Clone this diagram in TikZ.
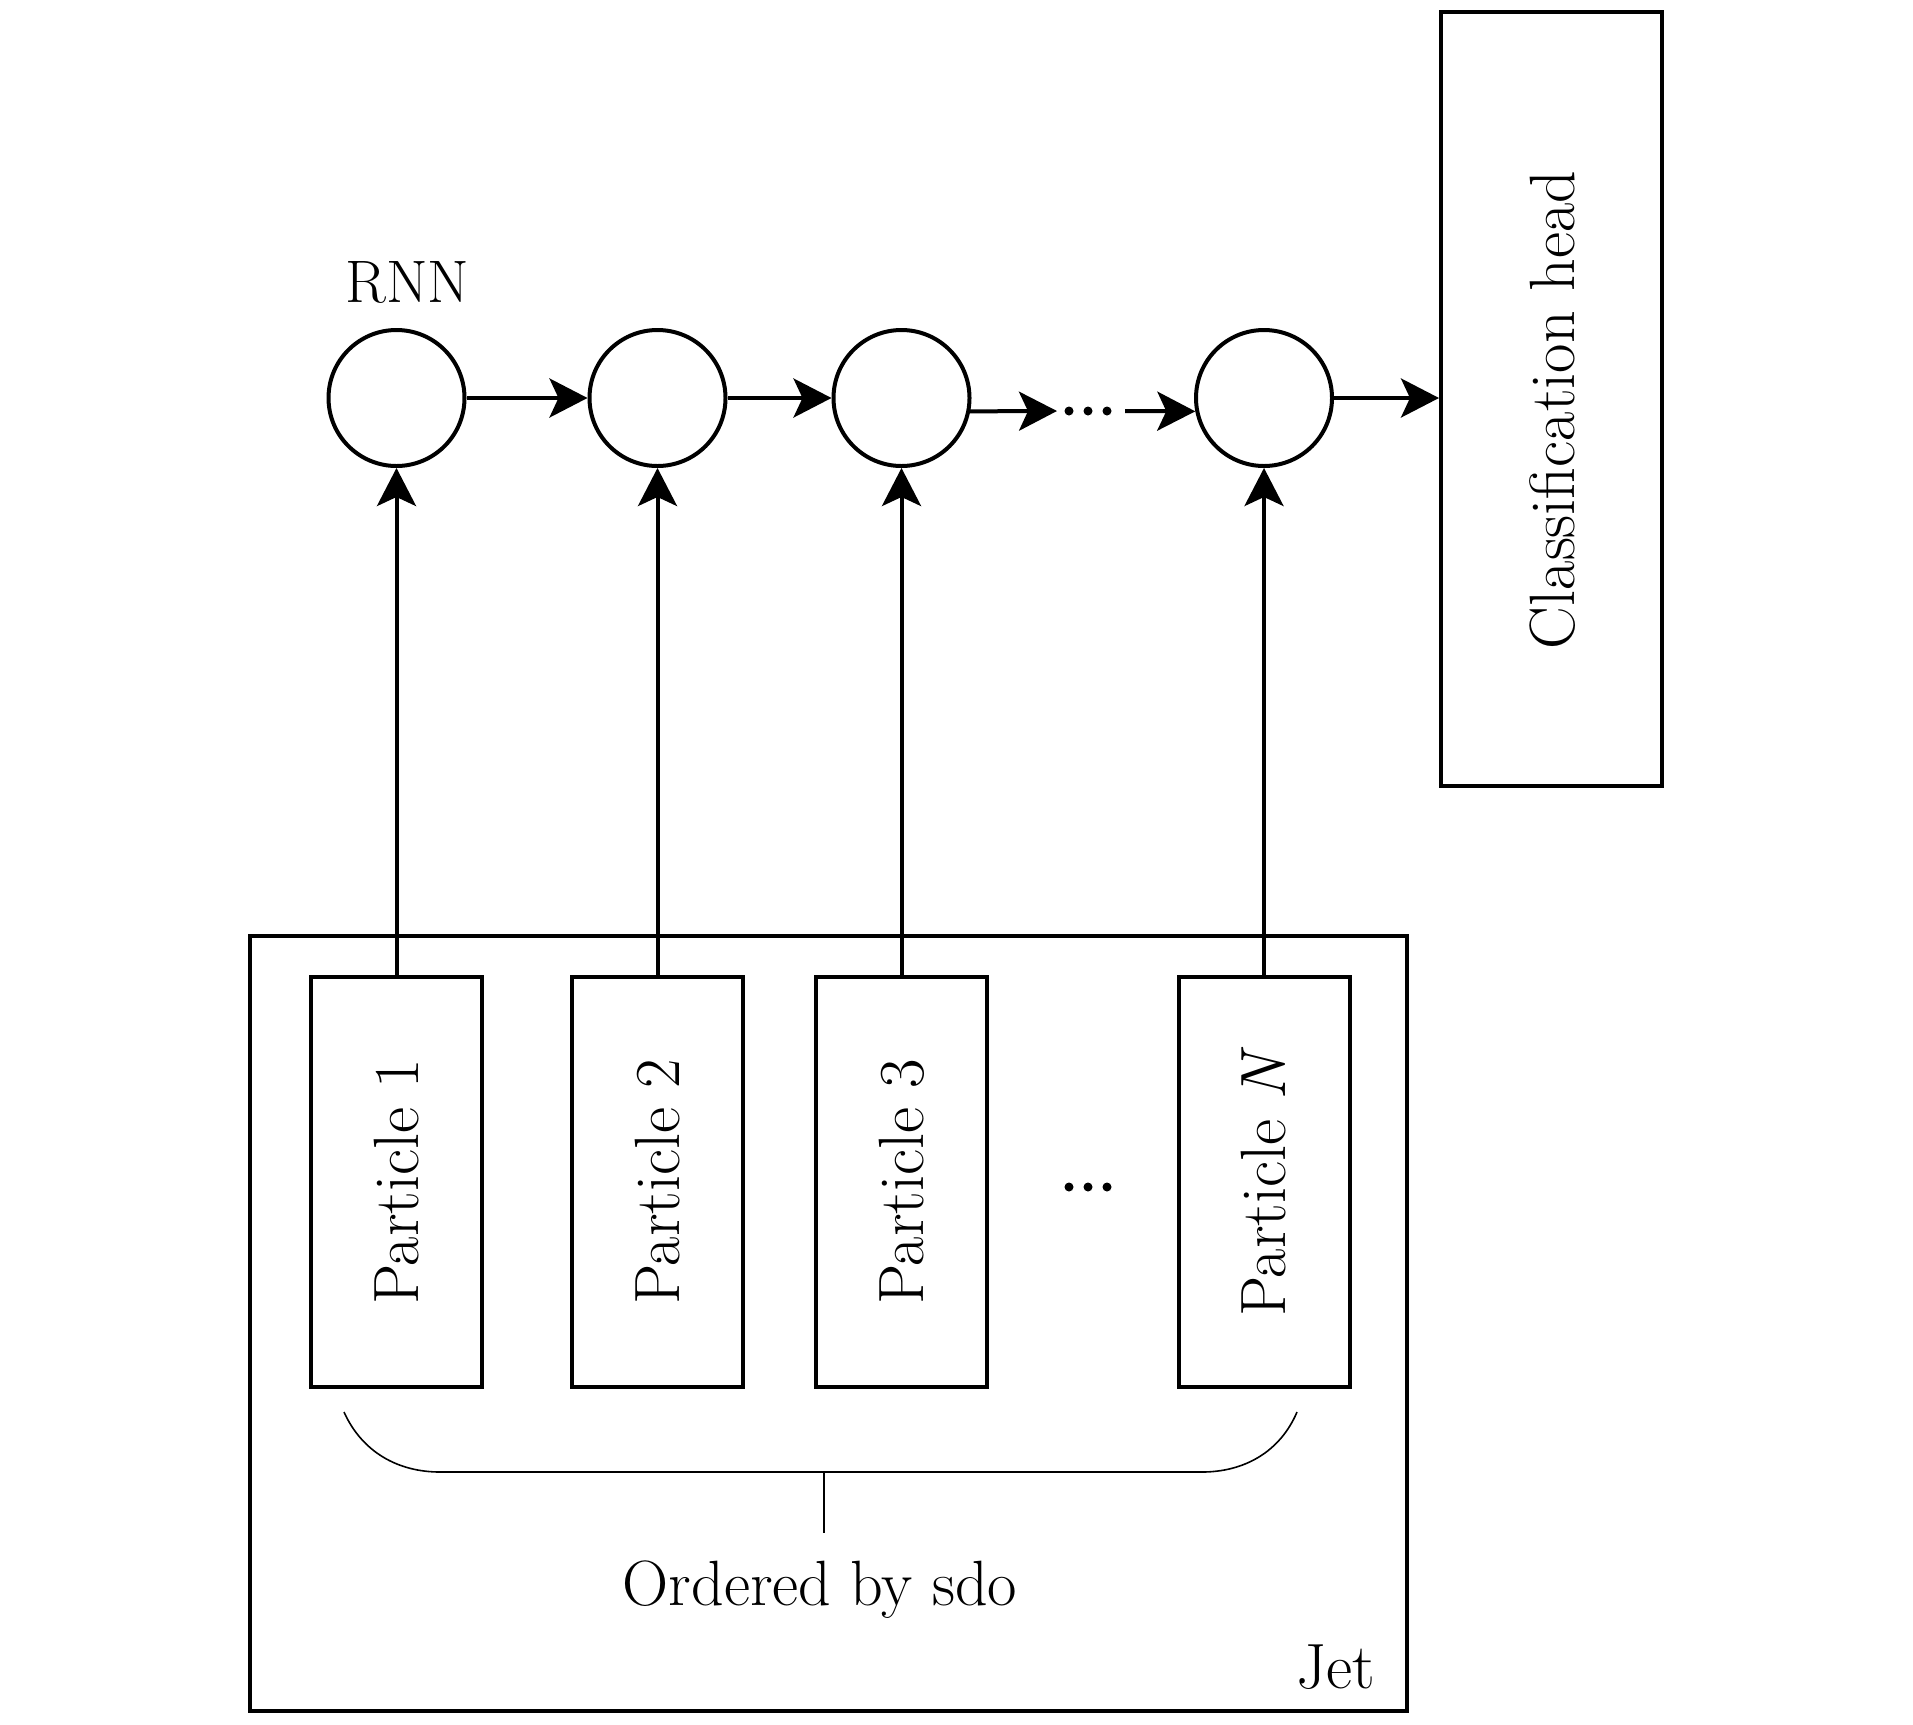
\documentclass[tikz,border=0pt]{standalone}
\usepackage{fontspec}
\usetikzlibrary{arrows.meta,calc}
\begin{document}
\begin{tikzpicture}[x=1pt,y=-1pt,
  every node/.style={font=\fontsize{64}{70}\selectfont},
  arr/.style={line width=4pt, -{Stealth[length=38pt,width=39pt,inset=9pt]}},
  cell/.style={circle, draw, line width=4pt, minimum size=136pt, inner sep=0pt},
  pbox/.style={rectangle, draw, line width=4pt, minimum width=171pt, minimum height=410pt, inner sep=0pt},
  vtext/.style={rotate=90, inner sep=0pt}
]
\path[use as bounding box] (0,0) rectangle (1913,1724);

% RNN cells
\node[cell] (c1) at (396.5,398) {};
\node[cell] (c2) at (657.5,398) {};
\node[cell] (c3) at (901.5,398) {};
\node[cell] (c4) at (1264,398) {};
\node[font=\fontsize{60}{66}\selectfont] (rnn) at (407.5,282) {RNN};

% Classification head
\node[rectangle, draw, line width=4pt, minimum width=221pt, minimum height=774pt, inner sep=0pt] (cls) at (1551.5,399) {};
\node[vtext] (clst) at (1553,410) {Classification head};

% horizontal arrows
\draw[arr] (c1.east) -- (c2.west);
\draw[arr] (c2.east) -- (c3.west);
\coordinate (d1) at (1057,411);
\coordinate (d2) at (1125,411);
\draw[arr] (c3.-11) -- (d1);
\fill (1069,411) circle (4.5) (1088,411) circle (4.5) (1107,411) circle (4.5);
\draw[arr] (d2) -- (c4.191);
\draw[arr] (c4.east) -- (c4.east -| cls.west);

% Jet box
\node[rectangle, draw, line width=4pt, minimum width=1157pt, minimum height=775pt, inner sep=0pt] (jet) at (828.5,1323.5) {};
\node (jett) at (1336,1667) {Jet};

% particles
\node[pbox] (p1) at (396.5,1182) {};
\node[pbox] (p2) at (657.5,1182) {};
\node[pbox] (p3) at (901.5,1182) {};
\node[pbox] (pn) at (1264,1182) {};
\node[vtext] (p1t) at (p1.center) {Particle 1};
\node[vtext] (p2t) at (p2.center) {Particle 2};
\node[vtext] (p3t) at (p3.center) {Particle 3};
\node[vtext] (pnt) at (pn.center) {Particle \textit{N}};
\fill (1069,1187) circle (4.5) (1088,1187) circle (4.5) (1107,1187) circle (4.5);

% vertical arrows
\draw[arr] (p1.north) -- (c1.south);
\draw[arr] (p2.north) -- (c2.south);
\draw[arr] (p3.north) -- (c3.south);
\draw[arr] (pn.north) -- (c4.south);

% brace
\draw[line width=1.6pt] (344,1412) .. controls (362,1452) and (398,1472) .. (440,1472)
  -- (1202,1472) .. controls (1244,1472) and (1280,1452) .. (1297,1412);
\coordinate (bm) at (824,1472);
\coordinate (bt) at (824,1533);
\draw[line width=1.6pt] (bm) -- (bt);
\node (ord) at (820,1590) {Ordered by sdo};
\end{tikzpicture}
\end{document}
